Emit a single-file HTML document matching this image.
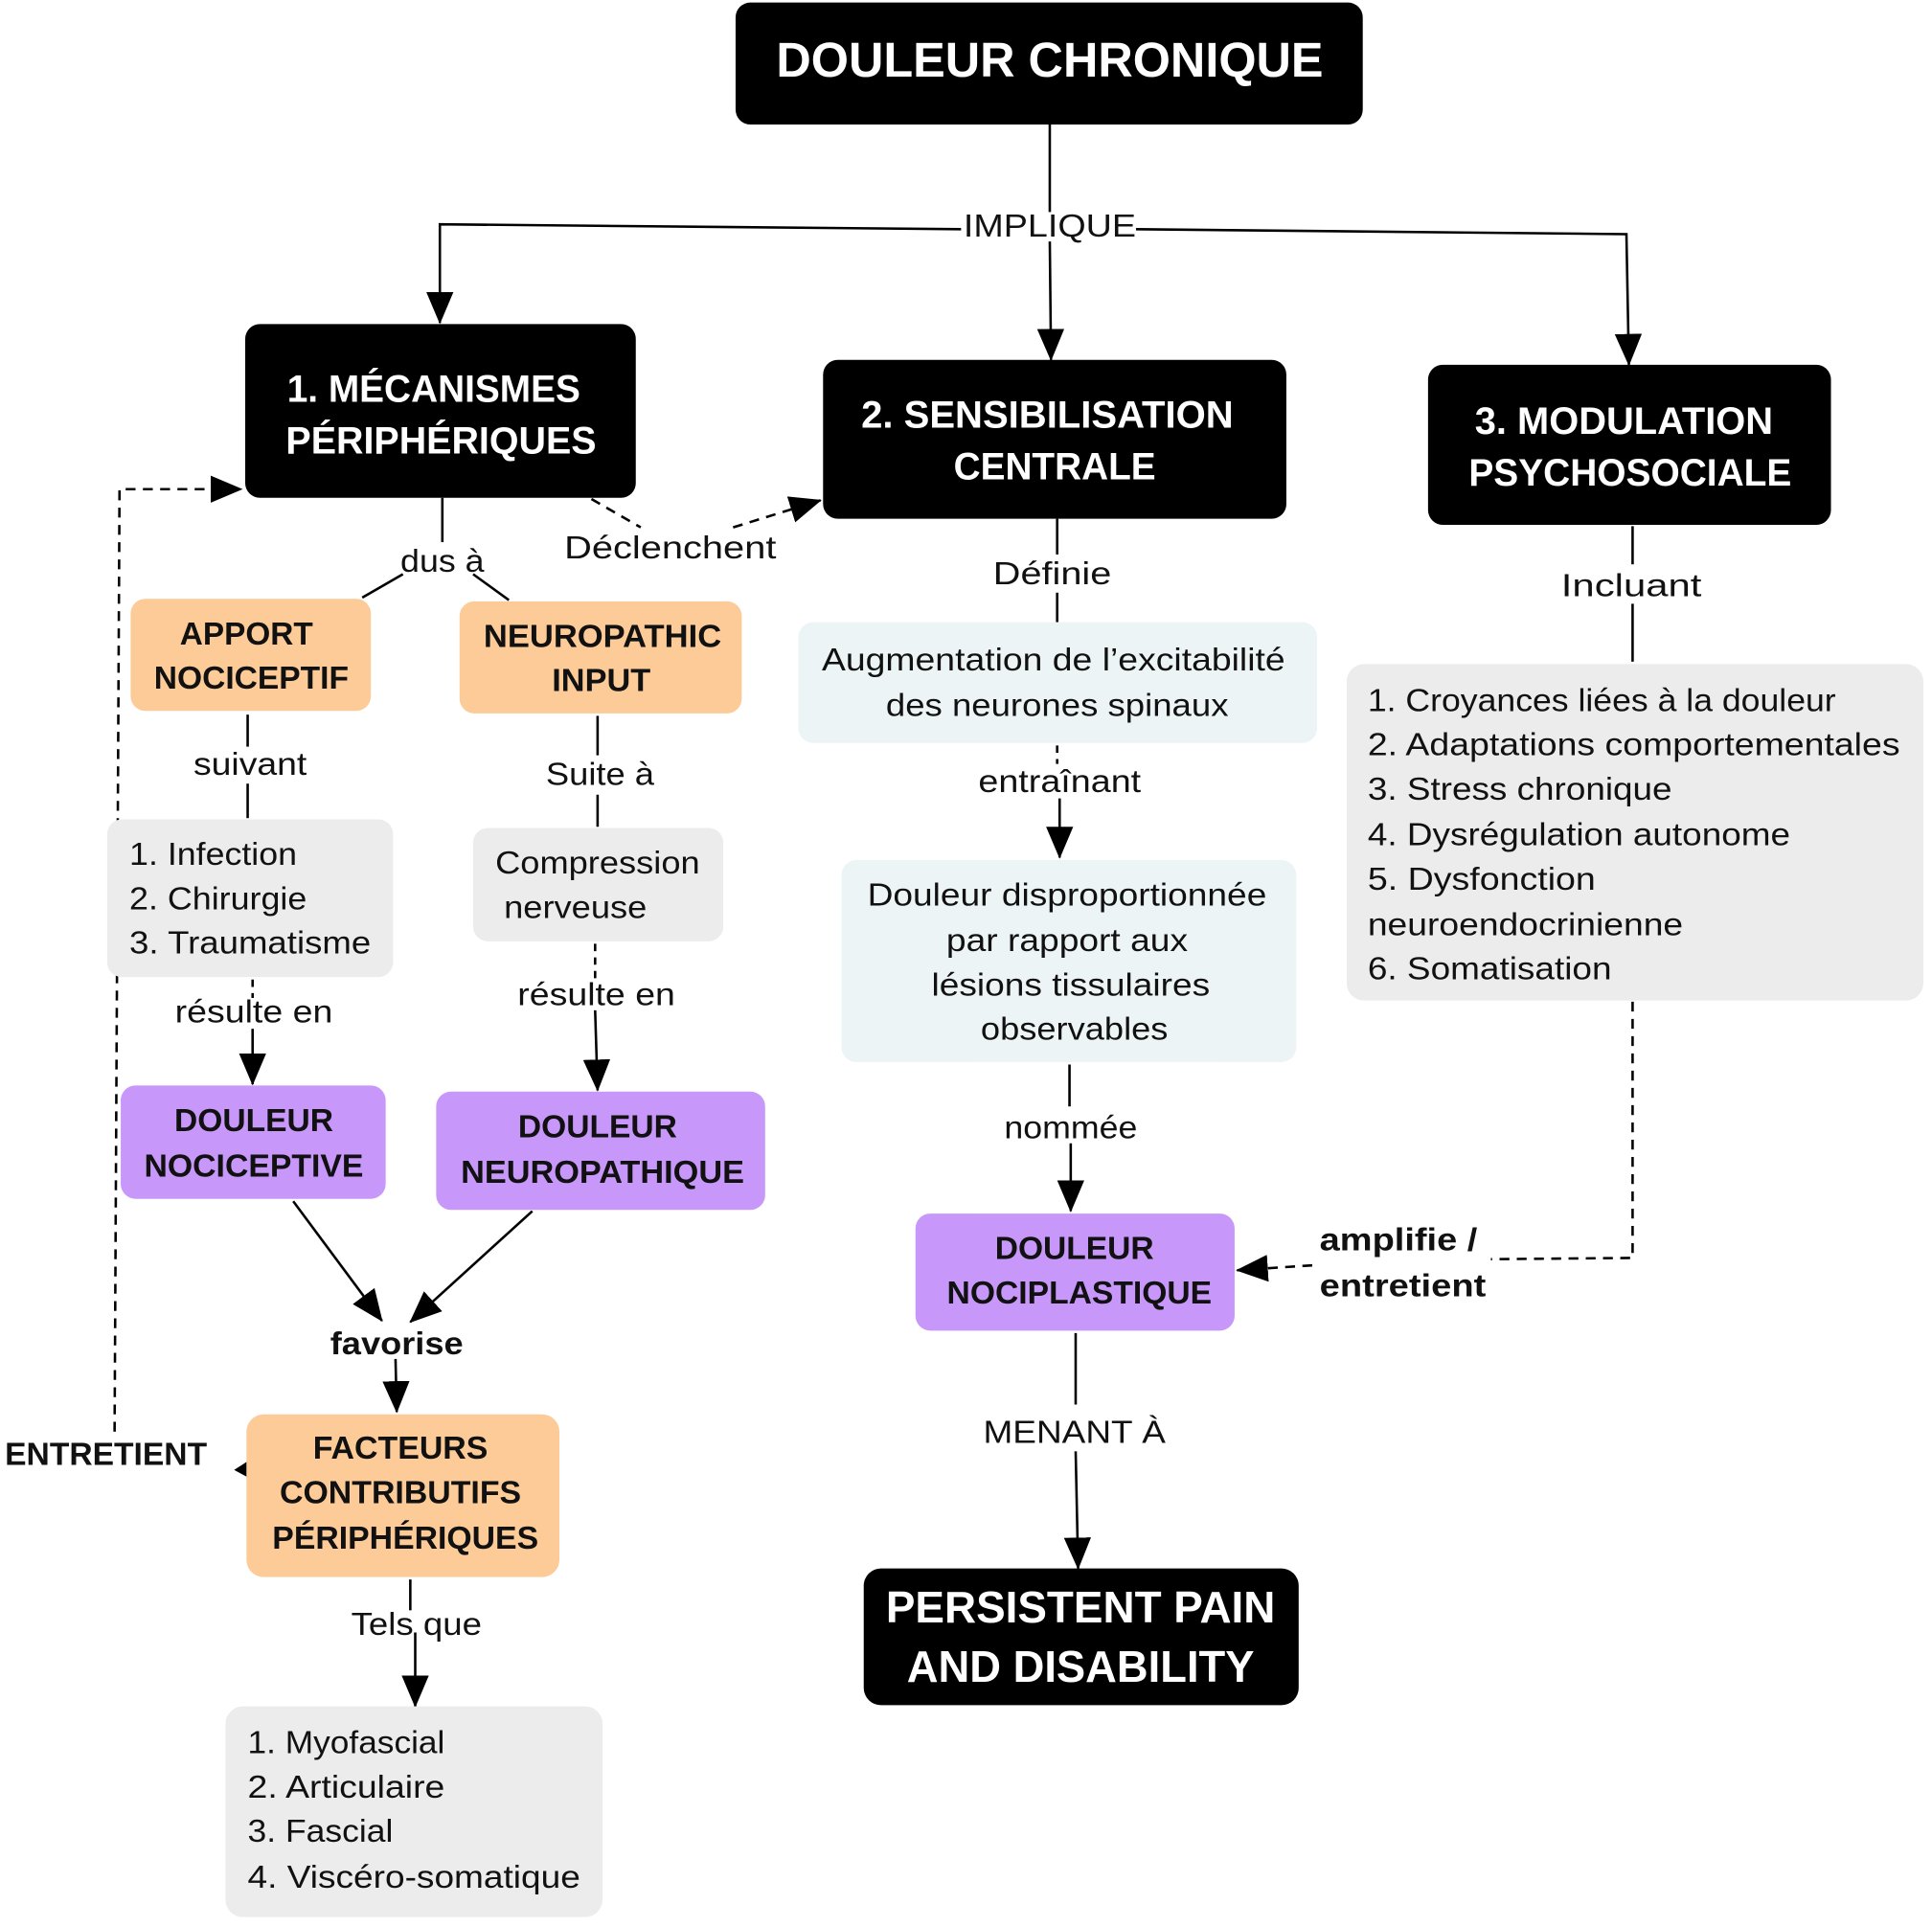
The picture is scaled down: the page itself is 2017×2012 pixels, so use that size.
<!DOCTYPE html>
<html><head><meta charset="utf-8"><style>html,body{margin:0;padding:0;background:#fff}svg{display:block}</style></head>
<body>
<svg xmlns="http://www.w3.org/2000/svg" width="2017" height="2012" viewBox="0 0 1568 1564" font-family="'Liberation Sans', sans-serif">
<defs>
<marker id="a" markerUnits="userSpaceOnUse" markerWidth="26" markerHeight="26" viewBox="0 0 26 26" refX="25" refY="13" orient="auto"><path d="M0,2 L26,13 L0,24 Z" fill="#000"/></marker>
</defs>
<rect width="1568" height="1564" fill="#fff"/>
<g fill="none" stroke="#000" stroke-width="2">
<line x1="852" y1="101" x2="852" y2="172"/>
<polyline points="780,186 357,182 357,262" marker-end="url(#a)"/>
<polyline points="922,186 1320,190 1322,296" marker-end="url(#a)"/>
<line x1="852" y1="196" x2="853" y2="292" marker-end="url(#a)"/>
<line x1="359" y1="404" x2="359" y2="440"/>
<line x1="327" y1="466" x2="294" y2="485"/>
<line x1="384" y1="466" x2="413" y2="487"/>
<path d="M480,405 L520,428" stroke-dasharray="8,6"/>
<path d="M595,428 L666,406" stroke-dasharray="8,6" marker-end="url(#a)"/>
<line x1="201" y1="580" x2="201" y2="606"/>
<line x1="201" y1="636" x2="201" y2="664"/>
<line x1="485" y1="581" x2="485" y2="613"/>
<line x1="485" y1="645" x2="485" y2="671"/>
<line x1="205" y1="795" x2="205" y2="810" stroke-dasharray="6,5"/>
<line x1="205" y1="835" x2="205" y2="880" marker-end="url(#a)"/>
<line x1="483" y1="766" x2="483" y2="795" stroke-dasharray="6,5"/>
<line x1="483" y1="820" x2="485" y2="885" marker-end="url(#a)"/>
<line x1="238" y1="975" x2="310" y2="1072" marker-end="url(#a)"/>
<line x1="432" y1="983" x2="333" y2="1073" marker-end="url(#a)"/>
<line x1="321" y1="1103" x2="322" y2="1146" marker-end="url(#a)"/>
<line x1="333" y1="1282" x2="333" y2="1307"/>
<line x1="337" y1="1325" x2="337" y2="1385" marker-end="url(#a)"/>
<polyline points="93,1162 97,397 196,397" stroke-dasharray="8,6" marker-end="url(#a)"/>
<line x1="858" y1="421" x2="858" y2="450"/>
<line x1="858" y1="481" x2="858" y2="505"/>
<line x1="858" y1="605" x2="858" y2="620" stroke-dasharray="6,5"/>
<line x1="860" y1="648" x2="860" y2="696" marker-end="url(#a)"/>
<line x1="868" y1="864" x2="868" y2="898"/>
<line x1="869" y1="928" x2="869" y2="983" marker-end="url(#a)"/>
<line x1="873" y1="1082" x2="873" y2="1140"/>
<line x1="873" y1="1178" x2="875" y2="1273" marker-end="url(#a)"/>
<line x1="1325" y1="427" x2="1325" y2="458"/>
<line x1="1325" y1="490" x2="1325" y2="537"/>
<polyline points="1325,813 1325,1021 1210,1022" stroke-dasharray="8,6"/>
<line x1="1065" y1="1027" x2="1004" y2="1031" stroke-dasharray="8,6" marker-end="url(#a)"/>
</g>
<path d="M201,1186 L190,1193 L201,1199 Z" fill="#000"/>
<rect x="597" y="2" width="509" height="99" rx="12" fill="#000"/>
<rect x="199" y="263" width="317" height="141" rx="12" fill="#000"/>
<rect x="668" y="292" width="376" height="129" rx="12" fill="#000"/>
<rect x="1159" y="296" width="327" height="130" rx="12" fill="#000"/>
<rect x="701" y="1273" width="353" height="111" rx="14" fill="#000"/>
<rect x="106" y="486" width="195" height="91" rx="12" fill="#fccb98"/>
<rect x="373" y="488" width="229" height="91" rx="12" fill="#fccb98"/>
<rect x="200" y="1148" width="254" height="132" rx="14" fill="#fccb98"/>
<rect x="98" y="881" width="215" height="92" rx="12" fill="#c897fa"/>
<rect x="354" y="886" width="267" height="96" rx="12" fill="#c897fa"/>
<rect x="743" y="985" width="259" height="95" rx="12" fill="#c897fa"/>
<rect x="87" y="665" width="232" height="128" rx="12" fill="#ececec"/>
<rect x="384" y="672" width="203" height="92" rx="12" fill="#ececec"/>
<rect x="183" y="1385" width="306" height="171" rx="14" fill="#ececec"/>
<rect x="1093" y="539" width="468" height="273" rx="14" fill="#ececec"/>
<rect x="648" y="505" width="421" height="98" rx="12" fill="#edf4f5"/>
<rect x="683" y="698" width="369" height="164" rx="12" fill="#edf4f5"/>
<g font-weight="bold" fill="#fff" text-anchor="middle">
<text x="852" y="62" font-size="40" textLength="444" lengthAdjust="spacingAndGlyphs">DOULEUR CHRONIQUE</text>
<text x="352" y="326" font-size="31" textLength="238" lengthAdjust="spacingAndGlyphs">1. MÉCANISMES</text>
<text x="358" y="368" font-size="31" textLength="252" lengthAdjust="spacingAndGlyphs">PÉRIPHÉRIQUES</text>
<text x="850" y="347" font-size="31" textLength="302" lengthAdjust="spacingAndGlyphs">2. SENSIBILISATION</text>
<text x="856" y="389" font-size="31" textLength="164" lengthAdjust="spacingAndGlyphs">CENTRALE</text>
<text x="1318" y="352" font-size="31" textLength="242" lengthAdjust="spacingAndGlyphs">3. MODULATION</text>
<text x="1323" y="394" font-size="31" textLength="262" lengthAdjust="spacingAndGlyphs">PSYCHOSOCIALE</text>
<text x="877" y="1317" font-size="36" textLength="316" lengthAdjust="spacingAndGlyphs">PERSISTENT PAIN</text>
<text x="877" y="1365" font-size="36" textLength="282" lengthAdjust="spacingAndGlyphs">AND DISABILITY</text>
</g>
<g font-weight="bold" fill="#111" text-anchor="middle" font-size="26">
<text x="200" y="523" textLength="108" lengthAdjust="spacingAndGlyphs">APPORT</text>
<text x="204" y="559" textLength="158" lengthAdjust="spacingAndGlyphs">NOCICEPTIF</text>
<text x="489" y="525" textLength="193" lengthAdjust="spacingAndGlyphs">NEUROPATHIC</text>
<text x="488" y="561" textLength="80" lengthAdjust="spacingAndGlyphs">INPUT</text>
<text x="206" y="918" textLength="129" lengthAdjust="spacingAndGlyphs">DOULEUR</text>
<text x="206" y="955" textLength="178" lengthAdjust="spacingAndGlyphs">NOCICEPTIVE</text>
<text x="485" y="923" textLength="129" lengthAdjust="spacingAndGlyphs">DOULEUR</text>
<text x="489" y="960" textLength="230" lengthAdjust="spacingAndGlyphs">NEUROPATHIQUE</text>
<text x="872" y="1022" textLength="129" lengthAdjust="spacingAndGlyphs">DOULEUR</text>
<text x="876" y="1058" textLength="215" lengthAdjust="spacingAndGlyphs">NOCIPLASTIQUE</text>
<text x="325" y="1184" textLength="142" lengthAdjust="spacingAndGlyphs">FACTEURS</text>
<text x="325" y="1220" textLength="196" lengthAdjust="spacingAndGlyphs">CONTRIBUTIFS</text>
<text x="329" y="1257" textLength="216" lengthAdjust="spacingAndGlyphs">PÉRIPHÉRIQUES</text>
<text x="322" y="1099" textLength="108" lengthAdjust="spacingAndGlyphs">favorise</text>
<text x="86" y="1189" textLength="164" lengthAdjust="spacingAndGlyphs">ENTRETIENT</text>
<text x="1071" y="1015" text-anchor="start" textLength="128" lengthAdjust="spacingAndGlyphs">amplifie /</text>
<text x="1071" y="1052" text-anchor="start" textLength="135" lengthAdjust="spacingAndGlyphs">entretient</text>
</g>
<g fill="#111" font-size="26" text-anchor="middle">
<text x="852" y="192" textLength="140" lengthAdjust="spacingAndGlyphs">IMPLIQUE</text>
<text x="359" y="464" textLength="68" lengthAdjust="spacingAndGlyphs">dus à</text>
<text x="544" y="453" textLength="172" lengthAdjust="spacingAndGlyphs">Déclenchent</text>
<text x="203" y="629" textLength="92" lengthAdjust="spacingAndGlyphs">suivant</text>
<text x="487" y="637" textLength="88" lengthAdjust="spacingAndGlyphs">Suite à</text>
<text x="206" y="830" textLength="128" lengthAdjust="spacingAndGlyphs">résulte en</text>
<text x="484" y="816" textLength="128" lengthAdjust="spacingAndGlyphs">résulte en</text>
<text x="338" y="1327" textLength="106" lengthAdjust="spacingAndGlyphs">Tels que</text>
<text x="854" y="474" textLength="96" lengthAdjust="spacingAndGlyphs">Définie</text>
<text x="860" y="643" textLength="132" lengthAdjust="spacingAndGlyphs">entraînant</text>
<text x="869" y="924" textLength="108" lengthAdjust="spacingAndGlyphs">nommée</text>
<text x="872" y="1171" textLength="148" lengthAdjust="spacingAndGlyphs">MENANT À</text>
<text x="1324" y="484" textLength="114" lengthAdjust="spacingAndGlyphs">Incluant</text>
<text x="855" y="544" textLength="376" lengthAdjust="spacingAndGlyphs">Augmentation de l’excitabilité</text>
<text x="858" y="581" textLength="278" lengthAdjust="spacingAndGlyphs">des neurones spinaux</text>
<text x="866" y="735" textLength="324" lengthAdjust="spacingAndGlyphs">Douleur disproportionnée</text>
<text x="866" y="772" textLength="196" lengthAdjust="spacingAndGlyphs">par rapport aux</text>
<text x="869" y="808" textLength="226" lengthAdjust="spacingAndGlyphs">lésions tissulaires</text>
<text x="872" y="844" textLength="152" lengthAdjust="spacingAndGlyphs">observables</text>
<text x="485" y="709" textLength="166" lengthAdjust="spacingAndGlyphs">Compression</text>
<text x="467" y="745" textLength="116" lengthAdjust="spacingAndGlyphs">nerveuse</text>
</g>
<g fill="#111" font-size="26">
<text x="105" y="702" textLength="136" lengthAdjust="spacingAndGlyphs">1. Infection</text>
<text x="105" y="738" textLength="144" lengthAdjust="spacingAndGlyphs">2. Chirurgie</text>
<text x="105" y="774" textLength="196" lengthAdjust="spacingAndGlyphs">3. Traumatisme</text>
<text x="201" y="1423" textLength="160" lengthAdjust="spacingAndGlyphs">1. Myofascial</text>
<text x="201" y="1459" textLength="160" lengthAdjust="spacingAndGlyphs">2. Articulaire</text>
<text x="201" y="1495" textLength="118" lengthAdjust="spacingAndGlyphs">3. Fascial</text>
<text x="201" y="1532" textLength="270" lengthAdjust="spacingAndGlyphs">4. Viscéro-somatique</text>
<text x="1110" y="577" textLength="380" lengthAdjust="spacingAndGlyphs">1. Croyances liées à la douleur</text>
<text x="1110" y="613" textLength="432" lengthAdjust="spacingAndGlyphs">2. Adaptations comportementales</text>
<text x="1110" y="649" textLength="247" lengthAdjust="spacingAndGlyphs">3. Stress chronique</text>
<text x="1110" y="686" textLength="343" lengthAdjust="spacingAndGlyphs">4. Dysrégulation autonome</text>
<text x="1110" y="722" textLength="185" lengthAdjust="spacingAndGlyphs">5. Dysfonction</text>
<text x="1110" y="759" textLength="256" lengthAdjust="spacingAndGlyphs">neuroendocrinienne</text>
<text x="1110" y="795" textLength="198" lengthAdjust="spacingAndGlyphs">6. Somatisation</text>
</g>
</svg>
</body></html>
